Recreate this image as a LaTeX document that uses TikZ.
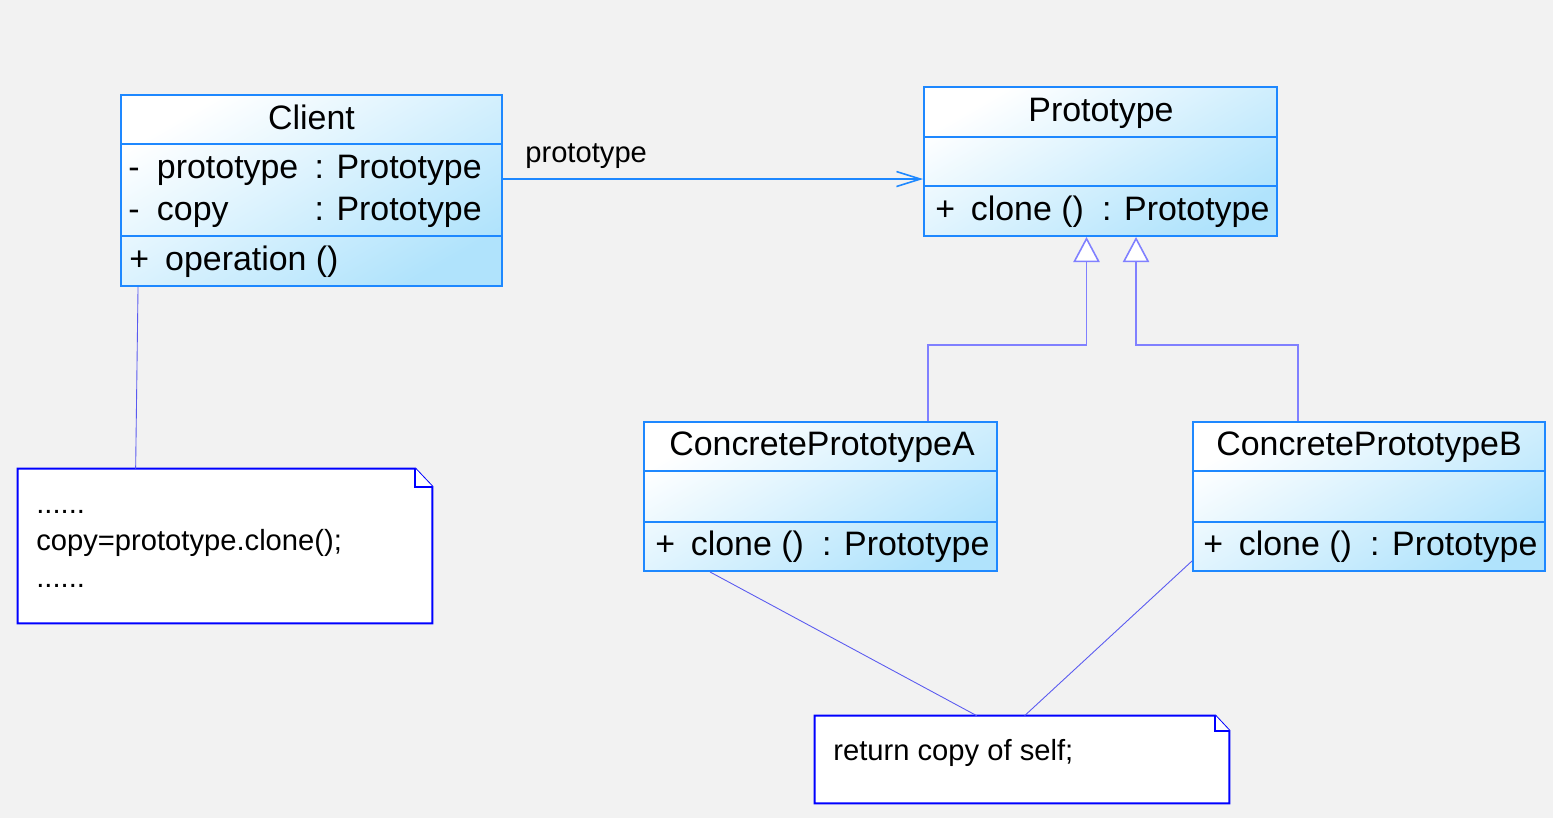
\documentclass[tikz,border=0pt]{standalone}
\usepackage{fontspec}
\setmainfont{Liberation Sans}
\usepackage{xcolor}
\usetikzlibrary{positioning,calc,fit,arrows.meta}

\definecolor{bgcolor}{HTML}{F2F2F2}
\definecolor{classblue}{HTML}{1E88FF}
\definecolor{classfill}{HTML}{B0E3FC}
\definecolor{linkblue}{HTML}{8080FF}
\definecolor{noteblue}{HTML}{0000FF}
\definecolor{tieblue}{HTML}{5A5AF0}

\tikzset{
  classbox/.style={draw=classblue, line width=1.1pt, top color=white, bottom color=classfill, shading angle=30, inner sep=0pt},
  classline/.style={draw=classblue, line width=1.1pt},
  classtext/.style={font=\fontsize{19.3}{23}\selectfont, inner sep=0pt},
  notebox/.style={draw=noteblue, line width=1.1pt, fill=white},
  notetext/.style={font=\fontsize{16.6}{21}\selectfont, inner sep=0pt},
  assoc/.style={draw=classblue, line width=0.9pt, -{Straight Barb[length=13.6pt, width=8.5pt, line width=0.9pt]}},
  generalize/.style={draw=linkblue, line width=0.9pt, -{Triangle[fill=white, length=14.3pt, width=15pt, line width=0.9pt]}},
  tie/.style={draw=tieblue, line width=0.5pt}
}

\begin{document}
\begin{tikzpicture}[x=0.02cm, y=-0.02cm]
    % Background
    \fill[bgcolor] (0,0) rectangle (1553,818);

    % Client
    \node[classbox, fit={(121,95) (502,286)}] (client) {};
    \draw[classline] ($(client.north west)+(0,50)$) -- ($(client.north east)+(0,50)$);
    \draw[classline] ($(client.north west)+(0,142)$) -- ($(client.north east)+(0,142)$);
    \node[classtext, anchor=base] (clientname) at (311.5,129) {Client};
    \node[classtext, anchor=base west] (clientproto) at (128,178) {\makebox[16.3pt][l]{-}\makebox[89.7pt][l]{prototype}: Prototype};
    \node[classtext, anchor=base west] (clientcopy) at (128,220) {\makebox[16.3pt][l]{-}\makebox[89.7pt][l]{copy}: Prototype};
    \node[classtext, anchor=base west] (clientop) at (129,270) {\makebox[20.4pt][l]{+}operation ()};

    % Prototype
    \node[classbox, fit={(924,87) (1277,236)}] (proto) {};
    \draw[classline] ($(proto.north west)+(0,51)$) -- ($(proto.north east)+(0,51)$);
    \draw[classline] ($(proto.north west)+(0,100)$) -- ($(proto.north east)+(0,100)$);
    \node[classtext, anchor=base] (protoname) at (1101,121) {Prototype};
    \node[classtext, anchor=base west] (protoop) at (935,220) {\makebox[20.2pt][l]{+}\makebox[74.8pt][l]{clone ()}: Prototype};

    % Concrete prototypes
    \node[classbox, fit={(644,422) (997,571)}] (conA) {};
    \draw[classline] ($(conA.north west)+(0,50)$) -- ($(conA.north east)+(0,50)$);
    \draw[classline] ($(conA.north west)+(0,101)$) -- ($(conA.north east)+(0,101)$);
    \node[classtext, anchor=base] (conAname) at (822,455) {ConcretePrototypeA};
    \node[classtext, anchor=base west] (conAop) at (655,555) {\makebox[20.2pt][l]{+}\makebox[74.8pt][l]{clone ()}: Prototype};

    \node[classbox, fit={(1193,422) (1545,571)}] (conB) {};
    \draw[classline] ($(conB.north west)+(0,50)$) -- ($(conB.north east)+(0,50)$);
    \draw[classline] ($(conB.north west)+(0,101)$) -- ($(conB.north east)+(0,101)$);
    \node[classtext, anchor=base] (conBname) at (1369,455) {ConcretePrototypeB};
    \node[classtext, anchor=base west] (conBop) at (1203,555) {\makebox[20.2pt][l]{+}\makebox[74.8pt][l]{clone ()}: Prototype};

    % Association
    \draw[assoc] ($(client.north east)+(0,85)$) -- ($(proto.north west)+(0,93)$);
    \node[notetext, anchor=base west] (assoclabel) at (525,162) {prototype};

    % Generalization
    \draw[generalize] ($(conA.north west)+(285,0)$) |- ($(proto.south west)+(163.5,108)$) -- ($(proto.south west)+(163.5,0)$);
    \draw[generalize] ($(conB.north west)+(106,0)$) |- ($(proto.south west)+(213,108)$) -- ($(proto.south west)+(213,0)$);

    % Note of Client
    \node[fit={(18,469) (432,623)}, inner sep=0pt] (codenote) {};
    \draw[notebox] (codenote.north west) -- ($(codenote.north east)+(-17,0)$) -- ($(codenote.north east)+(0,18)$) -- (codenote.south east) -- (codenote.south west) -- cycle;
    \draw[notebox] ($(codenote.north east)+(-17,0)$) |- ($(codenote.north east)+(0,18)$);
    \node[notetext, anchor=base west] (codedotsa) at (36,513) {......};
    \node[notetext, anchor=base west] (codeline) at (36,550) {copy=prototype.clone();};
    \node[notetext, anchor=base west] (codedotsb) at (36,587) {......};
    \draw[tie] ($(client.south west)+(18,0)$) -- ($(codenote.north west)+(118,0)$);

    % Note of clone
    \node[fit={(815,716) (1229,803)}, inner sep=0pt] (clonenote) {};
    \draw[notebox] (clonenote.north west) -- ($(clonenote.north east)+(-14,0)$) -- ($(clonenote.north east)+(0,15)$) -- (clonenote.south east) -- (clonenote.south west) -- cycle;
    \draw[notebox] ($(clonenote.north east)+(-14,0)$) |- ($(clonenote.north east)+(0,15)$);
    \node[notetext, anchor=base west] (clonetext) at (833,760) {return copy of self;};
    \draw[tie] ($(conA.south west)+(67,0)$) -- ($(clonenote.north west)+(162,0)$);
    \draw[tie] ($(conB.south west)+(0,-11)$) -- ($(clonenote.north west)+(210,0)$);
\end{tikzpicture}
\end{document}
